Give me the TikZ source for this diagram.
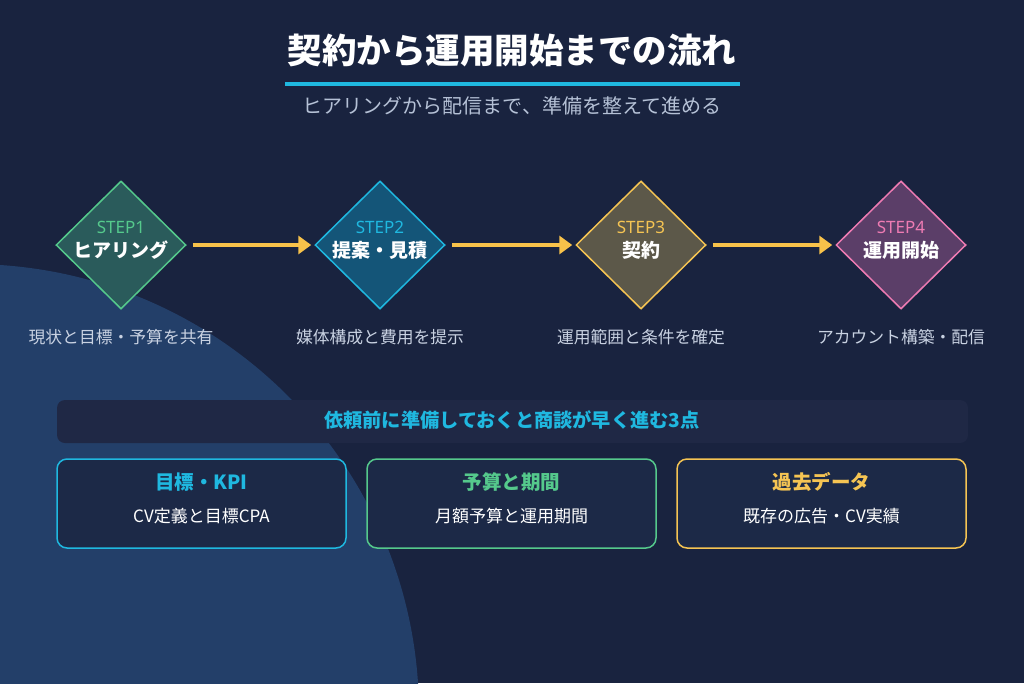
\documentclass[tikz,border=0pt]{standalone}
\usepackage{fontspec}
\setmainfont{Noto Sans CJK JP}
\newfontfamily\latinsans{Noto Sans}
\usetikzlibrary{shapes.geometric,arrows.meta}
\definecolor{bg}{HTML}{19233F}
\definecolor{blob}{HTML}{233F69}
\definecolor{subt}{HTML}{B5C1D6}
\definecolor{cyanc}{HTML}{1FB8E0}
\definecolor{greenc}{HTML}{55C98C}
\definecolor{yellowc}{HTML}{F5C453}
\definecolor{pinkc}{HTML}{EE7BB3}
\definecolor{arrowc}{HTML}{F8C24A}
\definecolor{fone}{HTML}{2A5B5B}
\definecolor{ftwo}{HTML}{145578}
\definecolor{fthree}{HTML}{5C5849}
\definecolor{ffour}{HTML}{5B3E68}
\definecolor{bannerc}{HTML}{1F2845}
\definecolor{cardc}{HTML}{1C2947}
\definecolor{desc}{HTML}{C9D2E2}
\tikzset{
  x=1pt,y=-1pt,
  stepdia/.style={diamond,draw=#1,line width=1.5pt,minimum width=130pt,minimum height=128pt,inner sep=0pt},
  steplbl/.style={font=\latinsans\fontsize{17}{17}\selectfont,text=#1,inner sep=0pt},
  stepname/.style={font=\bfseries\fontsize{19}{19}\selectfont,text=white,inner sep=0pt},
  desclbl/.style={font=\fontsize{16.8}{16.8}\selectfont,text=desc,inner sep=0pt},
  arr/.style={draw=arrowc,line width=4.5pt,-{Triangle[length=13pt,width=18pt]},shorten <=6pt,shorten >=3pt},
  card/.style={draw=#1,line width=1.5pt,rounded corners=10pt,fill=cardc,minimum width=289pt,minimum height=89pt,inner sep=0pt},
  cardtitle/.style={font=\bfseries\fontsize{19.5}{19.5}\selectfont,text=#1,inner sep=0pt},
  cardsub/.style={font=\fontsize{17}{17}\selectfont,text=white,inner sep=0pt},
}
\begin{document}
\begin{tikzpicture}
\useasboundingbox (0,0) rectangle (1024,683);
\fill[bg] (0,0) rectangle (1024,683);
\begin{scope}
\clip (0,0) rectangle (1024,683);
\fill[blob] (-30,713) circle (449);
\end{scope}
% title
\node[font=\bfseries\fontsize{34.5}{34.5}\selectfont,text=white,inner sep=0pt] (title) at (512,50) {契約から運用開始までの流れ};
\draw[cyanc,line width=4pt] (285,84) -- (740,84);
\node[font=\fontsize{20}{20}\selectfont,text=subt,inner sep=0pt] (sub) at (512,106) {ヒアリングから配信まで、準備を整えて進める};
% diamonds
\node[stepdia=greenc,fill=fone] (d1) at (121,245) {};
\node[stepdia=cyanc,fill=ftwo] (d2) at (380,245) {};
\node[stepdia=yellowc,fill=fthree] (d3) at (641,245) {};
\node[stepdia=pinkc,fill=ffour] (d4) at (901,245) {};
\node[steplbl=greenc] (s1) at (121,227) {STEP1};
\node[stepname] (n1) at (121,250) {ヒアリング};
\node[steplbl=cyanc] (s2) at (380,227) {STEP2};
\node[stepname] (n2) at (380,250) {提案・見積};
\node[steplbl=yellowc] (s3) at (641,227) {STEP3};
\node[stepname] (n3) at (641,250) {契約};
\node[steplbl=pinkc] (s4) at (901,227) {STEP4};
\node[stepname] (n4) at (901,250) {運用開始};
\draw[arr] (d1) -- (d2);
\draw[arr] (d2) -- (d3);
\draw[arr] (d3) -- (d4);
\node[desclbl] (t1) at (121,337) {現状と目標・予算を共有};
\node[desclbl] (t2) at (380,337) {媒体構成と費用を提示};
\node[desclbl] (t3) at (641,337) {運用範囲と条件を確定};
\node[desclbl] (t4) at (901,337) {アカウント構築・配信};
% banner
\node[fill=bannerc,rounded corners=8pt,minimum width=911pt,minimum height=43pt,inner sep=0pt] (banner) at (512.5,421.5) {};
\node[font=\bfseries\fontsize{19.2}{19.2}\selectfont,text=cyanc,inner sep=0pt] (bt) at (512,420) {依頼前に準備しておくと商談が早く進む3点};
% cards
\node[card=cyanc] (c1) at (201.5,503.5) {};
\node[card=greenc] (c2) at (511.5,503.5) {};
\node[card=yellowc] (c3) at (821.5,503.5) {};
\node[cardtitle=cyanc] (c1t) at (201.5,482) {目標・KPI};
\node[cardsub] (c1s) at (201.5,516) {CV定義と目標CPA};
\node[cardtitle=greenc] (c2t) at (511.5,482) {予算と期間};
\node[cardsub] (c2s) at (511.5,516) {月額予算と運用期間};
\node[cardtitle=yellowc] (c3t) at (821.5,482) {過去データ};
\node[cardsub] (c3s) at (821.5,516) {既存の広告・CV実績};
\end{tikzpicture}
\end{document}
